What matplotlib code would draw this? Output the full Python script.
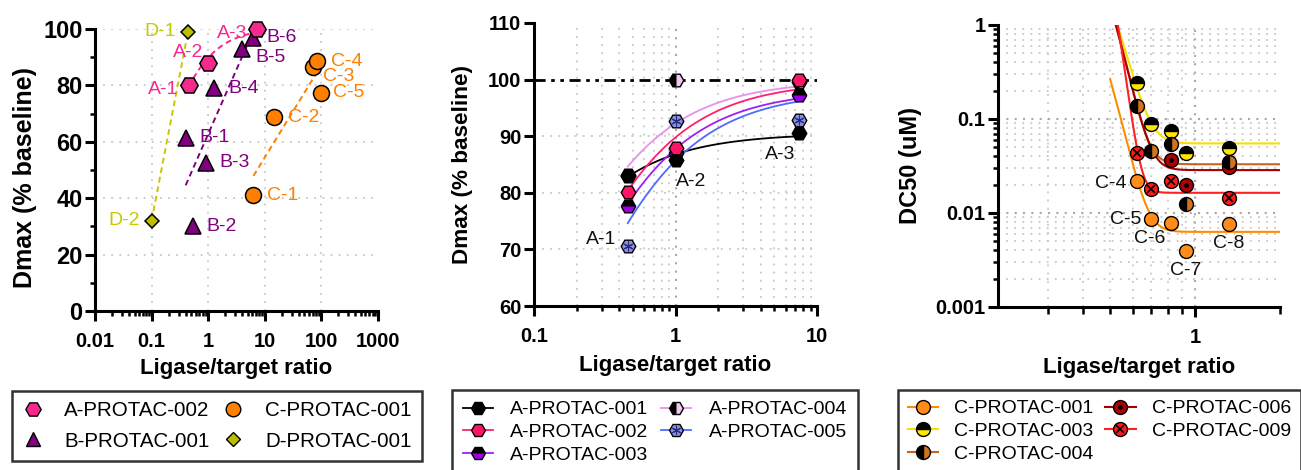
import numpy as np
import matplotlib
matplotlib.use('Agg')
import matplotlib.pyplot as plt
from matplotlib.lines import Line2D
from matplotlib.ticker import NullFormatter

plt.rcParams['font.family'] = ['Liberation Sans', 'DejaVu Sans']

# ---- panel 1: Dmax vs ligase/target ratio, all PROTAC series
a_ratio = [0.45, 0.98, 7.2]
a_dmax = [80, 88, 100]
a_names = ['A-1', 'A-2', 'A-3']

b_ratio = [0.40, 0.53, 0.91, 1.28, 3.95, 6.27]
b_dmax = [61.5, 30, 52.6, 79, 92.8, 96.7]
b_names = ['B-1', 'B-2', 'B-3', 'B-4', 'B-5', 'B-6']

c_ratio = [6.3, 14.7, 72, 85, 100]
c_dmax = [41, 68.9, 86.6, 88.7, 77.4]
c_names = ['C-1', 'C-2', 'C-3', 'C-4', 'C-5']

d_ratio = [0.44, 0.10]
d_dmax = [99, 32]
d_names = ['D-1', 'D-2']

# ---- panel 2: A-PROTAC series
p2_ratio = [0.46, 1.0, 7.47]
a001 = [83.1, 85.8, 90.5]
a002 = [80.1, 88.0, 100.0]
a003 = [77.7, 87.0, 97.3]
a004 = [83.0, 100.0, 99.5]
a005 = [70.6, 92.6, 92.8]
p2_names = ['A-1', 'A-2', 'A-3']
# hyperbola fit parameters (top, K)
p2_top = [90.5, 99.75, 98.2, 99.9, 98.0]
p2_k = [0.0425, 0.111, 0.119, 0.083, 0.144]

# ---- panel 3: DC50 of C-PROTAC series
p3_ratio = [0.62, 0.70, 0.82, 0.927, 1.32]
c001 = [0.0218, 0.0087, 0.0079, 0.0039, 0.0076]
c003 = [0.239, 0.088, 0.075, 0.0437, 0.0493]
c004 = [0.137, 0.0459, 0.0536, 0.0124, 0.035]
c006 = [np.nan, np.nan, 0.0365, 0.0198, 0.031]
c009 = [0.044, 0.0178, 0.0218, np.nan, 0.0145]
p3_names = ['C-4', 'C-5', 'C-6', 'C-7', 'C-8']
# decay fit parameters: plateau, value at x=0.5, rate
p3_plateau = [0.0063, 0.055, 0.033, 0.0286, 0.0164]
p3_y0 = [0.264, 1.75, 1.79, 1.64, 3.4]
p3_rate = [22.3, 19.4, 23.0, 22.0, 38.0]

PINK = '#f52a8c'
PURPLE = '#800080'
ORANGE = '#ff8000'
OLIVE = '#bdbd00'

W, H = 1301, 470
fig = plt.figure(figsize=(W / 100, H / 100), dpi=100)


def px_axes(l, t, r, b):
    return fig.add_axes([l / W, 1 - b / H, (r - l) / W, (b - t) / H])


def style(ax, ysize=14.5):
    for s in ['top', 'right']:
        ax.spines[s].set_visible(False)
    for s in ['left', 'bottom']:
        ax.spines[s].set_linewidth(2.2)
    ax.tick_params(which='major', length=7, width=2.2, labelsize=14.5, pad=2)
    ax.tick_params(axis='x', which='major', pad=8)
    ax.tick_params(axis='y', which='major', labelsize=ysize)
    ax.tick_params(which='minor', length=3.8, width=1.8)
    for lab in ax.get_xticklabels() + ax.get_yticklabels():
        lab.set_fontweight('bold')


GRID = dict(color='#c8c8c8', lw=1.3, ls=(0, (1, 3.5)))
GRID_DARK = dict(color='#a8a8a8', lw=1.5, ls=(0, (1, 3)))

ax1 = px_axes(95, 29, 378, 311)
ax2 = px_axes(534, 23, 817, 306)
ax3 = px_axes(998, 25, 1280, 307)

# ================= panel 1
ax1.set_xscale('log')
ax1.set_xlim(0.01, 1000)
ax1.set_ylim(0, 100)
ax1.set_xticks([0.01, 0.1, 1, 10, 100, 1000],
               ['0.01', '0.1', '1', '10', '100', '1000'])
ax1.set_xticks([k * 10.0 ** e for e in range(-2, 3) for k in range(2, 10)], minor=True)
ax1.xaxis.set_minor_formatter(NullFormatter())
ax1.set_yticks(range(0, 101, 20))
ax1.set_yticks(range(10, 100, 20), minor=True)
for v in [0.1, 1, 10, 100]:
    ax1.axvline(v, zorder=0, **GRID)
for v in [20, 40, 60, 80, 100]:
    ax1.axhline(v, zorder=0, **GRID)

# semilog least-squares lines
for xs, ys, col in [(b_ratio, b_dmax, PURPLE), (c_ratio, c_dmax, ORANGE),
                    (d_ratio, d_dmax, '#c8c800')]:
    lx = np.log10(xs)
    slope, icpt = np.polyfit(lx, ys, 1)
    xx = np.geomspace(min(xs), max(xs), 50)
    ax1.plot(xx, icpt + slope * np.log10(xx), color=col, lw=1.4, ls=(0, (3, 2)), zorder=2)
# hyperbola fit for A (reciprocal regression)
s, i0 = np.polyfit(1 / np.array(a_ratio), 1 / np.array(a_dmax), 1)
top, kd = 1 / i0, s / i0
xx = np.geomspace(min(a_ratio), max(a_ratio), 80)
ax1.plot(xx, top * xx / (kd + xx), color=PINK, lw=1.4, ls=(0, (3, 2)), zorder=2)

ax1.plot(d_ratio, d_dmax, ls='none', marker='D', ms=7.5, mfc=OLIVE, mec='k', mew=1.1, zorder=4, clip_on=False)
ax1.plot(b_ratio, b_dmax, ls='none', marker='^', ms=11, mfc=PURPLE, mec='k', mew=1.1, zorder=4, clip_on=False)
ax1.plot(c_ratio, c_dmax, ls='none', marker='o', ms=11.5, mfc=ORANGE, mec='k', mew=1.1, zorder=4, clip_on=False)
ax1.plot(a_ratio, a_dmax, ls='none', marker='H', ms=12.5, mfc=PINK, mec='k', mew=1.1, zorder=5, clip_on=False)

a_off = [(-10, -4, 'right'), (-4, 10, 'right'), (-9, -4, 'right')]
b_off = [(14, 0, 'left'), (14, 0, 'left'), (13, 0, 'left'), (14, 0, 'left'), (13, -8, 'left'), (13, 1, 'left')]
c_off = [(14, 0, 'left'), (14, -1, 'left'), (10, -10, 'left'), (14, -1, 'left'), (12, 0, 'left')]
d_off = [(-12, 0, 'right'), (-12, 0, 'right')]
for xs, ys, names, offs, col in [(a_ratio, a_dmax, a_names, a_off, PINK),
                                 (b_ratio, b_dmax, b_names, b_off, PURPLE),
                                 (c_ratio, c_dmax, c_names, c_off, ORANGE),
                                 (d_ratio, d_dmax, d_names, d_off, '#c8c800')]:
    for x, y, n, (dx, dy, ha) in zip(xs, ys, names, offs):
        ax1.annotate(n, (x, y), xytext=(dx, dy), textcoords='offset pixels',
                     ha=ha, va='center', fontsize=14, color=col, zorder=6)

style(ax1, ysize=17)
ax1.set_xlabel('Ligase/target ratio', fontsize=16, fontweight='bold')
ax1.set_ylabel('Dmax (% baseline)', fontsize=18, fontweight='bold')
ax1.xaxis.set_label_coords(0.5, -0.165)
ax1.yaxis.set_label_coords(-0.205, 0.475)

h1 = [Line2D([], [], ls='none', marker='H', ms=11, mfc=PINK, mec='k', mew=1),
      Line2D([], [], ls='none', marker='^', ms=10, mfc=PURPLE, mec='k', mew=1),
      Line2D([], [], ls='none', marker='o', ms=10.5, mfc=ORANGE, mec='k', mew=1),
      Line2D([], [], ls='none', marker='D', ms=7, mfc=OLIVE, mec='k', mew=1)]
leg1 = fig.legend(h1, ['A-PROTAC-002', 'B-PROTAC-001', 'C-PROTAC-001', 'D-PROTAC-001'],
                  ncol=2, loc='upper left', bbox_to_anchor=(12 / W, 1 - 391 / H),
                  fontsize=14.8, fancybox=False, edgecolor='k', borderaxespad=0,
                  handlelength=1.0, handletextpad=1.05, columnspacing=0.65,
                  labelspacing=0.55, borderpad=0.5)
leg1.get_frame().set_linewidth(1.8)

# ================= panel 2
ax2.set_xscale('log')
ax2.set_xlim(0.1, 10)
ax2.set_ylim(60, 110)
ax2.set_xticks([0.1, 1, 10], ['0.1', '1', '10'])
minor2 = [k * 10.0 ** e for e in (-1, 0) for k in range(2, 10)]
ax2.set_xticks(minor2, minor=True)
ax2.xaxis.set_minor_formatter(NullFormatter())
ax2.set_yticks(range(60, 111, 10))
for v in minor2:
    ax2.axvline(v, zorder=0, **GRID)
ax2.axvline(1, zorder=0, **GRID_DARK)
for v in [70, 80, 90]:
    ax2.axhline(v, zorder=0, **GRID)
ax2.axhline(100, color='k', lw=2, ls=(0, (4, 2, 1.3, 2, 1.3, 2)), zorder=2)

p2_series = [a001, a002, a003, a004, a005]
p2_line = ['black', '#ff2070', '#a020f0', '#e890f0', '#4f6bff']
p2_mark = [dict(mfc='black'),
           dict(mfc='#ff1466'),
           dict(mfc='black', fillstyle='top', markerfacecoloralt='#9b00e6'),
           dict(mfc='black', fillstyle='left', markerfacecoloralt='#f0c8f0'),
           dict(mfc='#8890e8')]
p2_z = [6, 7, 4, 3, 5]
xx = np.geomspace(min(p2_ratio), max(p2_ratio), 100)
for top, kd, col in zip(p2_top, p2_k, p2_line):
    ax2.plot(xx, top * xx / (kd + xx), color=col, lw=1.3, zorder=2)
for ys, mk, z in zip(p2_series, p2_mark, p2_z):
    ax2.plot(p2_ratio, ys, ls='none', marker='H', ms=10.5, mec='k', mew=1, zorder=z, clip_on=False, **mk)
ax2.plot(p2_ratio, a005, ls='none', marker=(6, 2, 0), ms=7, mec='#2a2a70', mew=0.8, zorder=5)

p2_off = [(-11, 7, 'right'), (0, -22, 'left'), (-4, -21, 'right')]
p2_anchor = [a005[0], a001[1], a001[2]]
for x, y, n, (dx, dy, ha) in zip(p2_ratio, p2_anchor, p2_names, p2_off):
    ax2.annotate(n, (x, y), xytext=(dx, dy), textcoords='offset pixels',
                 ha=ha, va='center', fontsize=14, color='#111111', zorder=8)

style(ax2)
ax2.set_xlabel('Ligase/target ratio', fontsize=16, fontweight='bold')
ax2.set_ylabel('Dmax (% baseline)', fontsize=16.2, fontweight='bold')
ax2.xaxis.set_label_coords(0.5, -0.173)
ax2.yaxis.set_label_coords(-0.217, 0.5)


def p2_handle(i):
    ln = Line2D([], [], color=p2_line[i], lw=1.3, marker='H', ms=10, mec='k', mew=1, **p2_mark[i])
    if i == 4:
        return (ln, Line2D([], [], ls='none', marker=(6, 2, 0), ms=6.5, mec='#2a2a70', mew=0.8))
    return ln


leg2 = fig.legend([p2_handle(i) for i in range(5)],
                  ['A-PROTAC-001', 'A-PROTAC-002', 'A-PROTAC-003', 'A-PROTAC-004', 'A-PROTAC-005'],
                  ncol=2, loc='upper left', bbox_to_anchor=(452 / W, 1 - 390 / H),
                  fontsize=14, fancybox=False, edgecolor='k', borderaxespad=0,
                  handlelength=1.55, handletextpad=0.88, columnspacing=0.67,
                  labelspacing=0.27, borderpad=0.55)
leg2.get_frame().set_linewidth(1.8)

# ================= panel 3
ax3.set_xscale('log')
ax3.set_yscale('log')
ax3.set_xlim(0.2, 2)
ax3.set_ylim(0.001, 1)
ax3.set_xticks([1], ['1'])
minor3x = [0.3, 0.4, 0.5, 0.6, 0.7, 0.8, 0.9, 2]
ax3.set_xticks(minor3x, minor=True)
ax3.xaxis.set_minor_formatter(NullFormatter())
ax3.set_yticks([0.001, 0.01, 0.1, 1], ['0.001', '0.01', '0.1', '1'])
minor3y = [k * 10.0 ** e for e in (-3, -2, -1) for k in range(2, 10)]
ax3.set_yticks(minor3y, minor=True)
ax3.yaxis.set_minor_formatter(NullFormatter())
for v in minor3x[:-1]:
    ax3.axvline(v, zorder=0, **GRID)
ax3.axvline(1, zorder=0, **GRID_DARK)
for v in minor3y:
    ax3.axhline(v, zorder=0, **GRID)
for v in [0.01, 0.1]:
    ax3.axhline(v, zorder=0, **GRID_DARK)

p3_series = [c001, c003, c004, c006, c009]
p3_line = ['#ff8c00', '#f5e000', '#c8641e', '#a80000', '#ff2020']
p3_mark = [dict(mfc='#ff8c1a'),
           dict(mfc='black', fillstyle='top', markerfacecoloralt='#ffe600'),
           dict(mfc='black', fillstyle='left', markerfacecoloralt='#d2731e'),
           dict(mfc='#b00000'),
           dict(mfc='#ff1a1a')]
xx = np.linspace(0.5, 2, 300)
for pl, y0, kr, col in zip(p3_plateau, p3_y0, p3_rate, p3_line):
    ax3.plot(xx, pl + (y0 - pl) * np.exp(-kr * (xx - 0.5)), color=col, lw=1.5, zorder=2)
p3_z = [5, 4, 4, 3, 4]
for ys, mk, z in zip(p3_series, p3_mark, p3_z):
    ax3.plot(p3_ratio, ys, ls='none', marker='o', ms=10, mec='k', mew=1, zorder=z, **mk)
ax3.plot(p3_ratio, c006, ls='none', marker='o', ms=2.5, mfc='k', mec='k', zorder=3.5)
ax3.plot(p3_ratio, c009, ls='none', marker='x', ms=6, mec='k', mew=1.2, zorder=4.5)

p3_off = [(-10, -2, 'right'), (-10, -1, 'right'), (-5, -16, 'right'), (0, -19, 'center'), (0, -19, 'center')]
for x, y, n, (dx, dy, ha) in zip(p3_ratio, c001, p3_names, p3_off):
    ax3.annotate(n, (x, y), xytext=(dx, dy), textcoords='offset pixels',
                 ha=ha, va='center', fontsize=14, color='#111111', zorder=8)

style(ax3)
ax3.tick_params(axis='x', which='minor', length=5)
ax3.set_xlabel('Ligase/target ratio', fontsize=16, fontweight='bold')
ax3.set_ylabel('DC50 (uM)', fontsize=17, fontweight='bold')
ax3.xaxis.set_label_coords(0.5, -0.178)
ax3.yaxis.set_label_coords(-0.271, 0.5)


def p3_handle(i):
    ln = Line2D([], [], color=p3_line[i], lw=1.5, marker='o', ms=10, mec='k', mew=1, **p3_mark[i])
    if i == 3:
        return (ln, Line2D([], [], ls='none', marker='o', ms=2.5, mfc='k', mec='k'))
    if i == 4:
        return (ln, Line2D([], [], ls='none', marker='x', ms=6, mec='k', mew=1.2))
    return ln


leg3 = fig.legend([p3_handle(i) for i in range(5)],
                  ['C-PROTAC-001', 'C-PROTAC-003', 'C-PROTAC-004', 'C-PROTAC-006', 'C-PROTAC-009'],
                  ncol=2, loc='upper left', bbox_to_anchor=(898 / W, 1 - 390 / H),
                  fontsize=14, fancybox=False, edgecolor='k', borderaxespad=0,
                  handlelength=1.55, handletextpad=0.85, columnspacing=0.6,
                  labelspacing=0.27, borderpad=0.5)
leg3.get_frame().set_linewidth(1.8)

fig.savefig('out.png', dpi=100)
